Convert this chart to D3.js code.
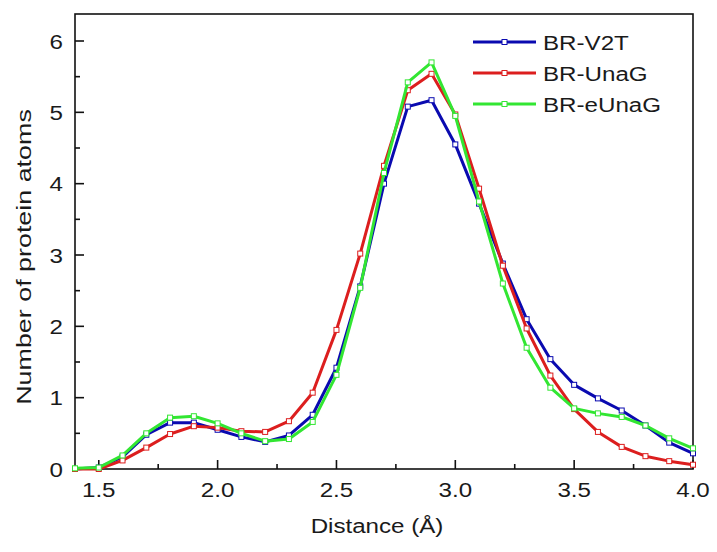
<!DOCTYPE html>
<html><head><meta charset="utf-8">
<script src="https://cdn.jsdelivr.net/npm/d3@7"></script>
<style>body{margin:0;background:#fff}svg{display:block}text{font-family:"Liberation Sans",Arial,sans-serif;fill:#1a1a1a}</style>
</head><body>
<script>
const distance = [1.4,1.5,1.6,1.7,1.8,1.9,2.0,2.1,2.2,2.3,2.4,2.5,2.6,2.7,2.8,2.9,3.0,3.1,3.2,3.3,3.4,3.5,3.6,3.7,3.8,3.9,4.0];
const brV2T   = [0,0.02,0.17,0.48,0.65,0.65,0.55,0.45,0.38,0.47,0.76,1.42,2.56,4.0,5.08,5.17,4.55,3.72,2.88,2.10,1.54,1.18,0.99,0.82,0.61,0.37,0.22];
const brUnaG  = [0,0.0,0.12,0.30,0.49,0.60,0.58,0.53,0.52,0.67,1.07,1.95,3.02,4.25,5.31,5.54,4.97,3.93,2.85,1.97,1.31,0.84,0.52,0.31,0.18,0.11,0.06];
const brEUnaG = [0.01,0.02,0.19,0.50,0.72,0.74,0.64,0.50,0.39,0.42,0.66,1.32,2.54,4.15,5.42,5.70,4.95,3.75,2.60,1.70,1.14,0.85,0.78,0.73,0.61,0.43,0.29];
const seriesNames = ["BR-V2T","BR-UnaG","BR-eUnaG"];
const seriesColors = ["#0a0ab0","#dc1e1e","#32e632"];
const xTicks = [1.5,2.0,2.5,3.0,3.5,4.0];
const yTicks = [0,1,2,3,4,5,6];

const series = [brV2T, brUnaG, brEUnaG];
const W = 717, H = 552;
const svg = d3.select("body").append("svg").attr("width",W).attr("height",H);
const L = 75, R = 693, T = 14, B = 469;
const x = d3.scaleLinear().domain([1.4,4.0]).range([L,R]);
const y = d3.scaleLinear().domain([0,6]).range([B,41]);
const fs = 21, sx = 1.15;

function label(px, py, str, anchor, rot, stretch){
  const g = svg.append("g").attr("transform",`translate(${px},${py})${rot?` rotate(${rot})`:""} scale(${stretch||sx},1)`);
  g.append("text").attr("text-anchor",anchor).attr("font-size",fs).text(str);
}

// frame
svg.append("rect").attr("x",L).attr("y",T).attr("width",R-L).attr("height",B-T)
  .attr("fill","none").attr("stroke","#111").attr("stroke-width",1.6);

// x axis ticks
const xMinor = d3.range(1.5,4.0001,0.25);
svg.append("g").selectAll("line").data(xMinor).join("line").attr("x1",d=>x(d)).attr("x2",d=>x(d))
  .attr("y1",B).attr("y2",d=>B-(Math.abs(d*2-Math.round(d*2))<1e-6?9:5)).attr("stroke","#111").attr("stroke-width",1.6);
xTicks.forEach(d=>label(x(d), 497, d.toFixed(1), "middle"));

// y axis ticks
const yMinor = d3.range(0,6.01,0.5);
svg.append("g").selectAll("line").data(yMinor).join("line").attr("y1",d=>y(d)).attr("y2",d=>y(d))
  .attr("x1",L).attr("x2",d=>L+(Number.isInteger(d)?9:5)).attr("stroke","#111").attr("stroke-width",1.6);
yTicks.forEach(d=>label(L-12, y(d)+7.5, String(d), "end"));

// titles
label(377, 533, "Distance (Å)", "middle");
label(31, 257, "Number of protein atoms", "middle", -90, 1.28);

// lines
const line = d3.line().x((d,i)=>x(distance[i])).y(d=>y(d));
series.forEach((s,k)=>{
  const g = svg.append("g");
  g.append("path").datum(s).attr("d",line).attr("fill","none").attr("stroke",seriesColors[k]).attr("stroke-width",3).attr("stroke-linejoin","round");
  g.selectAll("rect").data(s).join("rect").attr("x",(d,i)=>x(distance[i])-2.5).attr("y",d=>y(d)-2.5)
    .attr("width",5).attr("height",5).attr("fill","#fff").attr("stroke",seriesColors[k]).attr("stroke-width",1);
});

// legend
seriesNames.forEach((n,k)=>{
  const ly = 42 + k*31;
  svg.append("line").attr("x1",473).attr("x2",536).attr("y1",ly).attr("y2",ly).attr("stroke",seriesColors[k]).attr("stroke-width",3);
  svg.append("rect").attr("x",502).attr("y",ly-2.5).attr("width",5).attr("height",5).attr("fill","#fff").attr("stroke",seriesColors[k]).attr("stroke-width",1);
  label(543, ly+8, n, "start");
});
</script>
</body></html>
